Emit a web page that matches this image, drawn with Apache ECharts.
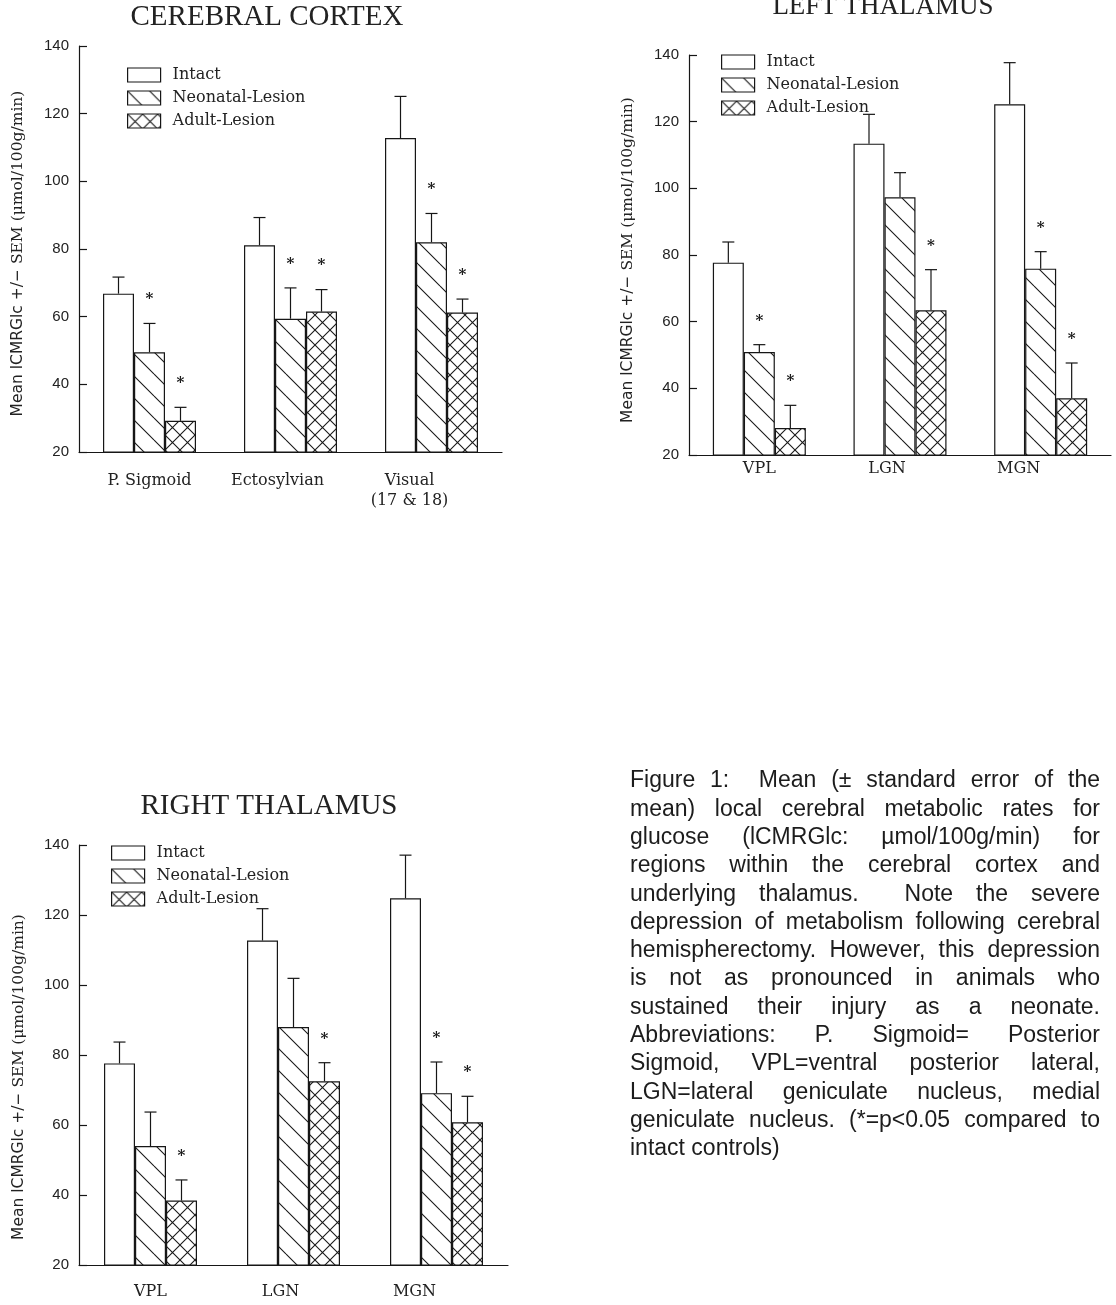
<!DOCTYPE html>
<html><head><meta charset="utf-8">
<script src="https://cdn.jsdelivr.net/npm/echarts@6/dist/echarts.min.js"></script>
<style>html,body{margin:0;padding:0;background:#fff}#c{width:1116px;height:1305px}</style>
</head><body><div id="c"></div>
<script>
// ---------- data ----------
const seriesNames = ['Intact', 'Neonatal-Lesion', 'Adult-Lesion'];
const yMin = 20, yMax = 140, yStep = 20;

// Cerebral cortex
const cortexCategories = ['P. Sigmoid', 'Ectosylvian', 'Visual\n(17 & 18)'];
const cortexIntact = [66.8, 81.1, 112.8];
const cortexIntactSEM = [4.9, 8.2, 12.3];
const cortexNeonatal = [49.5, 59.4, 82.0];
const cortexNeonatalSEM = [8.5, 9.1, 8.5];
const cortexAdult = [29.2, 61.5, 61.2];
const cortexAdultSEM = [4.0, 6.5, 4.0];
const cortexIntactSig = [0, 0, 0];
const cortexNeonatalSig = [1, 1, 1];
const cortexAdultSig = [1, 1, 1];

// Left thalamus
const leftCategories = ['VPL', 'LGN', 'MGN'];
const leftIntact = [77.7, 113.4, 125.2];
const leftIntactSEM = [6.2, 8.8, 12.5];
const leftNeonatal = [50.9, 97.3, 75.9];
const leftNeonatalSEM = [2.2, 7.4, 5.1];
const leftAdult = [28.1, 63.4, 37.0];
const leftAdultSEM = [6.8, 12.2, 10.6];
const leftIntactSig = [0, 0, 0];
const leftNeonatalSig = [1, 0, 1];
const leftAdultSig = [1, 1, 1];

// Right thalamus
const rightCategories = ['VPL', 'LGN', 'MGN'];
const rightIntact = [77.6, 112.7, 124.8];
const rightIntactSEM = [6.1, 9.1, 12.3];
const rightNeonatal = [54.0, 88.0, 69.1];
const rightNeonatalSEM = [9.7, 13.9, 8.9];
const rightAdult = [38.4, 72.5, 60.8];
const rightAdultSEM = [5.9, 5.3, 7.4];
const rightIntactSig = [0, 0, 0];
const rightNeonatalSig = [0, 0, 1];
const rightAdultSig = [1, 1, 1];

const panelTitles = ['CEREBRAL CORTEX', 'LEFT THALAMUS', 'RIGHT THALAMUS'];

const captionLines = [
  'Figure 1:  Mean (\u00b1 standard error of the',
  'mean) local cerebral metabolic rates for',
  'glucose (lCMRGlc: \u00b5mol/100g/min) for',
  'regions within the cerebral cortex and',
  'underlying thalamus.  Note the severe',
  'depression of metabolism following cerebral',
  'hemispherectomy. However, this depression',
  'is not as pronounced in animals who',
  'sustained their injury as a neonate.',
  'Abbreviations: P. Sigmoid= Posterior',
  'Sigmoid, VPL=ventral posterior lateral,',
  'LGN=lateral geniculate nucleus, medial',
  'geniculate nucleus. (*=p<0.05 compared to',
  'intact controls)'
];

// ---------- panels built from the arrays ----------
const panels = [
  { title: panelTitles[0], cats: cortexCategories,
    means: [cortexIntact, cortexNeonatal, cortexAdult],
    sems: [cortexIntactSEM, cortexNeonatalSEM, cortexAdultSEM],
    sig: [cortexIntactSig, cortexNeonatalSig, cortexAdultSig] },
  { title: panelTitles[1], cats: leftCategories,
    means: [leftIntact, leftNeonatal, leftAdult],
    sems: [leftIntactSEM, leftNeonatalSEM, leftAdultSEM],
    sig: [leftIntactSig, leftNeonatalSig, leftAdultSig] },
  { title: panelTitles[2], cats: rightCategories,
    means: [rightIntact, rightNeonatal, rightAdult],
    sems: [rightIntactSEM, rightNeonatalSEM, rightAdultSEM],
    sig: [rightIntactSig, rightNeonatalSig, rightAdultSig] }
];

// ---------- layout / style ----------
const layout = [
  { grid: {left: 79, top: 46, width: 423, height: 406}, titleX: 267, titleTop: 3, titleSize: 29,
    legend: {left: 127, top: 67}, labelMargin: 19, nameGap: 53, namePad: 9 },
  { grid: {left: 689, top: 55, width: 422, height: 400}, titleX: 883, titleTop: -7, titleSize: 27,
    legend: {left: 721, top: 54}, labelMargin: 4, nameGap: 53, namePad: 10 },
  { grid: {left: 79, top: 845, width: 429, height: 420}, titleX: 269, titleTop: 792, titleSize: 29,
    legend: {left: 111, top: 845}, labelMargin: 17, nameGap: 52, namePad: 44 }
];
const BAR_W = 31;
const INK = '#161616';
const labelShift = [0, 26, 44];

function hatch(P, cross) {
  const c = document.createElement('canvas');
  c.width = P; c.height = P;
  const g = c.getContext('2d');
  g.fillStyle = '#fff'; g.fillRect(0, 0, P, P);
  g.strokeStyle = '#1a1a1a'; g.lineWidth = 1.1;
  g.beginPath();
  for (let k = -1; k <= 1; k++) {
    g.moveTo(0, k * P); g.lineTo(P, P + k * P);
    if (cross) { g.moveTo(0, P + k * P); g.lineTo(P, k * P); }
  }
  g.stroke();
  return c;
}
const fills = ['#ffffff',
  {image: hatch(22, false), repeat: 'repeat'},
  {image: hatch(15, true), repeat: 'repeat'}];

const chart = echarts.init(document.getElementById('c'), null, {renderer: 'canvas'});

const grids = [], xAxes = [], yAxes = [], series = [], titles = [], legends = [];

panels.forEach((p, pi) => {
  const L = layout[pi];
  grids.push(Object.assign({containLabel: false}, L.grid));
  titles.push({text: p.title, left: L.titleX, top: L.titleTop, textAlign: 'center', padding: 0,
    textStyle: {fontFamily: '"Liberation Serif", serif', fontSize: L.titleSize, fontWeight: 'normal', color: '#222'}});
  const rich = {};
  labelShift.forEach((s, i) => {
    rich['c' + i] = {fontFamily: '"DejaVu Serif", serif', fontSize: 16, color: '#222', lineHeight: 20, padding: [0, s, 0, 0]};
  });
  xAxes.push({type: 'category', gridIndex: pi, data: p.cats,
    axisLine: {lineStyle: {color: INK, width: 1.2}},
    axisTick: {show: false}, splitLine: {show: false},
    axisLabel: {margin: L.labelMargin, interval: 0,
      formatter: (v, i) => v.split('\n').map(s => '{c' + i + '|' + s + '}').join('\n'),
      rich: rich}});
  yAxes.push({type: 'value', gridIndex: pi, min: yMin, max: yMax, interval: yStep,
    axisLine: {show: true, lineStyle: {color: INK, width: 1.2}},
    axisTick: {show: true, inside: true, length: 8, lineStyle: {color: INK, width: 1.2}},
    splitLine: {show: false},
    axisLabel: {margin: 10, fontFamily: '"Liberation Sans", sans-serif', fontSize: 15, color: '#222'},
    name: '{s|Mean lCMRGlc +/\u2212}{r| SEM (\u03bcmol/100g/min)}',
    nameLocation: 'middle', nameGap: L.nameGap, nameRotate: 90,
    nameTextStyle: {padding: [0, L.namePad, 0, 0], rich: {
      s: {fontFamily: '"DejaVu Sans", sans-serif', fontSize: 15.5, color: '#222'},
      r: {fontFamily: '"DejaVu Serif", serif', fontSize: 15.5, color: '#222'}}}});
  legends.push({data: seriesNames.slice(), orient: 'vertical', left: L.legend.left, top: L.legend.top,
    itemWidth: 33, itemHeight: 14, itemGap: 7, padding: 0, icon: 'rect', selectedMode: false,
    itemStyle: {borderColor: INK, borderWidth: 1.2},
    textStyle: {fontFamily: '"DejaVu Serif", serif', fontSize: 16, color: '#222', padding: [0, 0, 0, 7]}});
  seriesNames.forEach((name, j) => {
    series.push({type: 'bar', name: name, xAxisIndex: pi, yAxisIndex: pi, data: p.means[j],
      barWidth: BAR_W, barGap: '0%', animation: false, silent: true,
      itemStyle: {color: fills[j], borderColor: INK, borderWidth: 1.2}});
  });
  const rows = [];
  p.cats.forEach((c, ci) => {
    for (let j = 0; j < 3; j++) rows.push([ci, j, p.means[j][ci], p.sems[j][ci], p.sig[j][ci]]);
  });
  series.push({type: 'custom', name: 'err' + pi, xAxisIndex: pi, yAxisIndex: pi, data: rows,
    encode: {x: 0, y: 2}, z: 5, silent: true, animation: false,
    renderItem: function (params, api) {
      const ci = api.value(0), j = api.value(1), m = api.value(2), s = api.value(3), sig = api.value(4);
      const base = api.coord([ci, m]);
      const top = api.coord([ci, m + s]);
      const x = base[0] + (j - 1) * BAR_W;
      const st = {stroke: INK, lineWidth: 1.2};
      const ch = [
        {type: 'line', shape: {x1: x, y1: base[1], x2: x, y2: top[1]}, style: st},
        {type: 'line', shape: {x1: x - 6, y1: top[1], x2: x + 6, y2: top[1]}, style: st}
      ];
      if (sig) ch.push({type: 'text', x: x, y: top[1] - 24,
        style: {text: '*', font: 'bold 15px "DejaVu Serif"', fill: INK, align: 'center', verticalAlign: 'middle'}});
      return {type: 'group', children: ch};
    }});
});

// caption, justified word by word
const capFont = '23px "Liberation Sans"';
const capX = 630, capW = 470, capY0 = 781, capLH = 28.3;
const mctx = document.createElement('canvas').getContext('2d');
mctx.font = capFont;
const graphics = [];
captionLines.forEach((line, li) => {
  const parts = line.split(/( +)/);
  const words = [], gaps = [];
  parts.forEach((t, k) => { if (k % 2 === 0) words.push(t); else gaps.push(t.length); });
  const last = li === captionLines.length - 1;
  const wordW = words.map(w => mctx.measureText(w).width);
  const spaceW = mctx.measureText(' ').width;
  const totalGapUnits = gaps.reduce((a, b) => a + b, 0);
  const unit = last || totalGapUnits === 0 ? spaceW : (capW - wordW.reduce((a, b) => a + b, 0)) / totalGapUnits;
  let x = capX;
  words.forEach((w, k) => {
    graphics.push({type: 'text', x: x, y: capY0 + li * capLH,
      style: {text: w, font: capFont, fill: '#1c1c1c', verticalAlign: 'middle', align: 'left'}});
    x += wordW[k] + (k < gaps.length ? gaps[k] * unit : 0);
  });
});

chart.setOption({
  backgroundColor: '#ffffff',
  animation: false,
  title: titles,
  legend: legends,
  grid: grids,
  xAxis: xAxes,
  yAxis: yAxes,
  series: series,
  graphic: graphics
});
</script></body></html>
